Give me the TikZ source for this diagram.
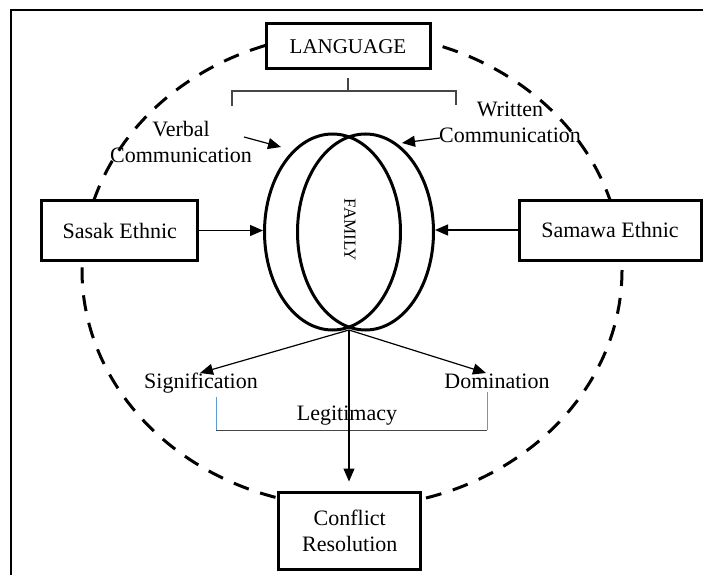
\documentclass[tikz,border=0pt]{standalone}
\usepackage{fontspec}
\setmainfont{Liberation Serif}
\usetikzlibrary{shapes, arrows.meta, positioning, shapes.geometric}
\definecolor{legblue}{RGB}{91,155,213}
\definecolor{brgray}{RGB}{70,70,70}

\begin{document}
\begin{tikzpicture}[x=1pt, y=-1pt,
    box/.style={draw, line width=3pt, fill=white, inner sep=0pt, align=center, font=\fontsize{22}{26}\selectfont},
    lbl/.style={inner sep=0pt, align=center, font=\fontsize{22}{26}\selectfont},
    oval/.style={draw, ellipse, line width=3pt, minimum width=136pt, minimum height=196pt, inner sep=0pt},
    arr/.style={-{Triangle[length=13pt, width=11pt]}, line width=1.2pt},
    brk/.style={brgray, line width=1.2pt}]
    \useasboundingbox (0,0) rectangle (703,575);
    \draw[line width=2pt] (11,575) -- (11,10) -- (703,10);
    % dashed ring
    \draw[line width=3pt, dash pattern=on 16pt off 12pt] (352,270) ellipse [x radius=270, y radius=237];

    \node[box, minimum width=164pt, minimum height=45pt, font=\fontsize{21}{25}\selectfont] (lang) at (348,46.5) {LANGUAGE};
    \node[box, minimum width=156pt, minimum height=60pt] (sasak) at (119.75,230.5) {Sasak Ethnic};
    \node[box, minimum width=182pt, minimum height=60pt] (samawa) at (610,230) {Samawa Ethnic};
    \node[box, minimum width=142pt, minimum height=77pt] (conf) at (349.75,530.5) {Conflict\\Resolution};

    \node[oval] (famL) at (332.5,232) {};
    \node[oval] (famR) at (365.5,232) {};
    \node[rotate=-90, inner sep=0pt, font=\fontsize{17}{20}\selectfont] (famtxt) at (350,230) {FAMILY};

    \node[lbl] (verbal) at (181,142) {Verbal\\Communication};
    \node[lbl] (written) at (510,122.5) {Written\\Communication};
    \node[lbl, anchor=base] (sig) at (201,388) {Signification};
    \node[lbl, anchor=base] (dom) at (497,388) {Domination};
    \node[lbl, anchor=base] (legit) at (347,420) {Legitimacy};

    \coordinate (vtail) at (244,137);
    \coordinate (vtip) at (281,147);
    \coordinate (wtail) at (440,138);
    \coordinate (wtip) at (402,143);
    \coordinate (fambot) at (349,330);
    \coordinate (sigtip) at (200,373);
    \coordinate (domtip) at (486,373);

    % brackets
    \draw[brk] (348,78) -- (348,91);
    \draw[brk] (232,106) -- (232,91) -- (456,91) -- (456,105);
    \draw[legblue, line width=1pt] (216,397) -- (216,430);
    \draw[brk, line width=1pt] (216,430) -- (487,430);
    \draw[legblue, line width=1pt] (487,430) -- (487,392);

    \draw[arr] (sasak.east) -- (sasak.east -| famL.west);
    \draw[arr] (samawa.west) -- (samawa.west -| famR.east);
    \draw[arr] (vtail) -- (vtip);
    \draw[arr] (wtail) -- (wtip);
    \draw[arr] (fambot) -- (sigtip);
    \draw[arr] (fambot) -- (domtip);
    \draw[arr, shorten >=9pt] (fambot) -- (fambot |- conf.north);
\end{tikzpicture}
\end{document}
